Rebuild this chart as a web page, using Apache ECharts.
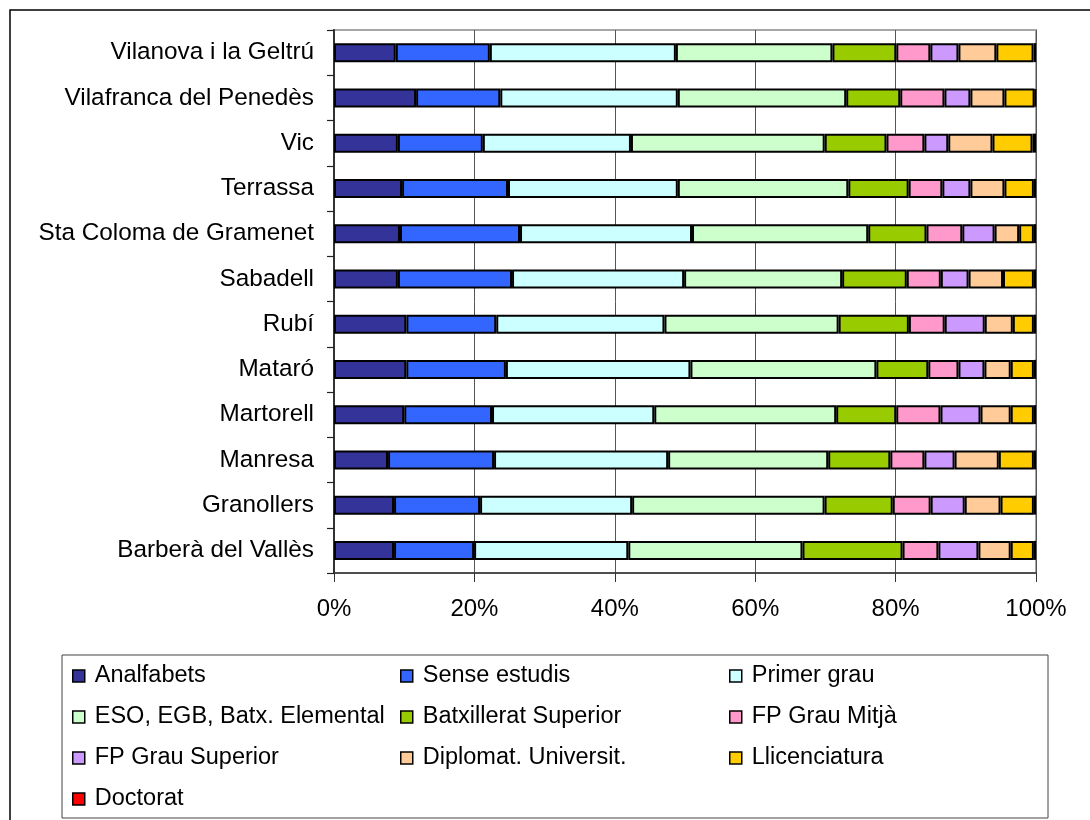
<!DOCTYPE html>
<html><head><meta charset="utf-8">
<script src="https://cdn.jsdelivr.net/npm/echarts@6/dist/echarts.min.js"></script>
<style>html,body{margin:0;padding:0;background:#fff}#c{width:1090px;height:820px}</style>
</head><body><div id="c"></div>
<script>
const categories = ['Vilanova i la Geltrú','Vilafranca del Penedès','Vic','Terrassa','Sta Coloma de Gramenet','Sabadell','Rubí','Mataró','Martorell','Manresa','Granollers','Barberà del Vallès'];
const seriesNames = ['Analfabets','Sense estudis','Primer grau','ESO, EGB, Batx. Elemental','Batxillerat Superior','FP Grau Mitjà','FP Grau Superior','Diplomat. Universit.','Llicenciatura','Doctorat'];
const analfabets    = [8.8, 11.7, 9.1, 9.7, 9.4, 9.1, 10.3, 10.3, 10.0, 7.7, 8.55, 8.55];
const senseEstudis  = [13.4, 12.0, 12.1, 15.1, 17.1, 16.25, 12.8, 14.2, 12.5, 15.1, 12.25, 11.4];
const primerGrau    = [26.5, 25.3, 21.1, 24.2, 24.5, 24.5, 23.95, 26.3, 23.1, 24.8, 21.65, 21.95];
const eso           = [22.3, 24.0, 27.6, 24.3, 25.1, 22.5, 24.8, 26.5, 25.9, 22.8, 27.4, 24.8];
const batxSuperior  = [9.1, 7.7, 8.8, 8.6, 8.3, 9.2, 10.0, 7.4, 8.55, 8.85, 9.7, 14.25];
const fpMitja       = [4.85, 6.3, 5.4, 4.8, 5.1, 4.85, 5.1, 4.3, 6.3, 4.85, 5.4, 5.1];
const fpSuperior    = [4.0, 3.7, 3.4, 4.0, 4.6, 3.95, 5.7, 3.7, 5.7, 4.3, 4.85, 5.7];
const diplomat      = [5.4, 4.85, 6.3, 4.85, 3.5, 4.9, 4.0, 3.75, 4.3, 6.3, 5.1, 4.6];
const llicenciatura = [5.3, 4.3, 5.7, 4.2, 2.1, 4.4, 3.0, 3.3, 3.3, 5.0, 4.75, 3.3];
const doctorat      = [0.35, 0.2, 0.5, 0.3, 0.3, 0.3, 0.3, 0.3, 0.3, 0.3, 0.3, 0.3];
const xTicks = [0, 20, 40, 60, 80, 100];

const colors = ['#333399','#3366FF','#CCFFFF','#CCFFCC','#99CC00','#FF99CC','#CC99FF','#FFCC99','#FFCC00','#FF0000'];
const raw = [analfabets, senseEstudis, primerGrau, eso, batxSuperior, fpMitja, fpSuperior, diplomat, llicenciatura, doctorat];
const totals = categories.map((_, i) => raw.reduce((s, arr) => s + arr[i], 0));
const pct = raw.map(arr => arr.map((v, i) => v / totals[i] * 100));

const FONT = "'Liberation Sans', Arial, sans-serif";
const chart = echarts.init(document.getElementById('c'), null, {renderer: 'canvas'});

const legendBase = {
  orient: 'vertical', top: 664, padding: 0, itemGap: 17,
  icon: 'rect', itemWidth: 12, itemHeight: 12, selectedMode: false,
  itemStyle: {borderColor: '#000', borderWidth: 1.5},
  textStyle: {fontFamily: FONT, fontSize: 23.5, lineHeight: 23, color: '#000', padding: [0, 0, 0, 5]}
};

chart.setOption({
  animation: false,
  backgroundColor: '#fff',
  textStyle: {fontFamily: FONT},
  graphic: [
    {type: 'rect', shape: {x: 10, y: 10, width: 1200, height: 900}, style: {fill: 'none', stroke: '#000', lineWidth: 1.5}, silent: true},
    {type: 'rect', shape: {x: 62, y: 655, width: 986, height: 163}, style: {fill: 'none', stroke: '#444', lineWidth: 1}, silent: true}
  ],
  legend: [
    Object.assign({}, legendBase, {left: 72, data: [seriesNames[0], seriesNames[3], seriesNames[6], seriesNames[9]]}),
    Object.assign({}, legendBase, {left: 400, data: [seriesNames[1], seriesNames[4], seriesNames[7]]}),
    Object.assign({}, legendBase, {left: 729, data: [seriesNames[2], seriesNames[5], seriesNames[8]]})
  ],
  grid: {left: 334, right: 54, top: 30, bottom: 247, show: true, borderColor: '#a6a6a6', borderWidth: 2, backgroundColor: 'transparent'},
  xAxis: {
    type: 'value', min: xTicks[0], max: xTicks[xTicks.length - 1], interval: 20,
    axisLine: {show: true, lineStyle: {color: '#333', width: 1.5}},
    axisTick: {show: true, length: 9, lineStyle: {color: '#333', width: 1}},
    axisLabel: {formatter: '{value}%', fontFamily: FONT, fontSize: 24, color: '#000', margin: 24},
    splitLine: {show: true, lineStyle: {color: '#555', width: 1}}
  },
  yAxis: {
    type: 'category', data: categories, inverse: true,
    axisLine: {show: true, lineStyle: {color: '#333', width: 2}},
    axisTick: {show: true, length: 7, lineStyle: {color: '#222', width: 1.2}},
    axisLabel: {fontFamily: FONT, fontSize: 24.3, color: '#000', margin: 20},
    splitLine: {show: false}
  },
  series: seriesNames.map((name, k) => ({
    name: name, type: 'bar', stack: 'total', barWidth: 19,
    data: pct[k],
    itemStyle: {color: colors[k], borderColor: '#000', borderWidth: 2},
    emphasis: {disabled: true}
  }))
});
</script></body></html>
